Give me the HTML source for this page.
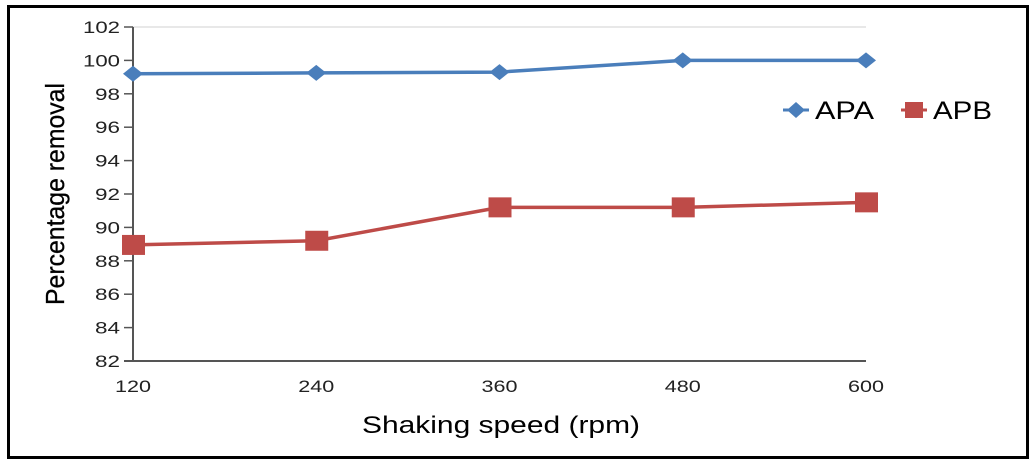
<!DOCTYPE html>
<html><head><meta charset="utf-8"><style>
html,body{margin:0;padding:0;background:#fff;}
svg{display:block;font-family:"Liberation Sans",Arial,sans-serif;}
</style></head><body>
<svg id="chart" width="1034" height="463">
<rect x="8.5" y="6.5" width="1019" height="451" fill="#fff" stroke="#000" stroke-width="3"/>
<g id="axes"></g>
<g id="series"></g>
<text x="362" y="433" font-size="24" textLength="278" lengthAdjust="spacingAndGlyphs" fill="#000">Shaking speed (rpm)</text>
<text transform="translate(64,194) rotate(-90)" font-size="26" stroke="#000" stroke-width="0.3" textLength="222" lengthAdjust="spacingAndGlyphs" text-anchor="middle" fill="#000">Percentage removal</text>
<g>
<g>
<line x1="783" y1="110" x2="809" y2="110" stroke="#4a7ebb" stroke-width="3"/>
<path d="M796 102 L805 110 L796 118 L787 110 Z" fill="#4a7ebb"/>
<text x="815" y="119" font-size="25" textLength="59" lengthAdjust="spacingAndGlyphs" fill="#000">APA</text>
</g>
<g>
<line x1="901" y1="110" x2="927" y2="110" stroke="#be4b48" stroke-width="3"/>
<rect x="905" y="102" width="18" height="16" fill="#be4b48"/>
<text x="933" y="119" font-size="25" textLength="59" lengthAdjust="spacingAndGlyphs" fill="#000">APB</text>
</g>
</g>
</svg>
<script>
const categories = [120, 240, 360, 480, 600];
const apaValues = [99.2, 99.25, 99.3, 100, 100];
const apbValues = [88.95, 89.2, 91.2, 91.2, 91.5];
const yTicks = [82, 84, 86, 88, 90, 92, 94, 96, 98, 100, 102];
const NS = "http://www.w3.org/2000/svg";
const X0 = 133, X1 = 866, Y0 = 361, Y1 = 27, YMIN = 82, YMAX = 102;
function xs(i){ return X0 + (X1 - X0) * i / (categories.length - 1); }
function ys(v){ return Y0 - (v - YMIN) / (YMAX - YMIN) * (Y0 - Y1); }
function mk(tag, attrs, parent){ const e = document.createElementNS(NS, tag); for (const k in attrs) e.setAttribute(k, attrs[k]); parent.appendChild(e); return e; }
const axes = document.getElementById('axes');
const series = document.getElementById('series');
let g = mk('line', {x1: X0, y1: ys(YMAX), x2: X1, y2: ys(YMAX), stroke: '#d0d0d0', 'stroke-width': 1}, axes);


yTicks.forEach(t => {
  const y = ys(t);
  const tk = mk('line', {x1: X0 - 9, y1: y, x2: X0, y2: y, stroke: '#555', 'stroke-width': 1.5}, axes);
  
  
  const w = String(t).length === 3 ? 37 : 25;
  const lb = mk('text', {x: X0 - 13 - w, y: y + 6, 'font-size': 17, textLength: w, lengthAdjust: 'spacingAndGlyphs', fill: '#222'}, axes);
  lb.textContent = t;
  
  
});
categories.forEach((c, i) => {
  const lb = mk('text', {x: xs(i) - 18, y: 392, 'font-size': 17, textLength: 36, lengthAdjust: 'spacingAndGlyphs', fill: '#222'}, axes);
  lb.textContent = c;
  
  
});
const ya = mk('line', {x1: X0, y1: Y1, x2: X0, y2: Y0, stroke: '#555', 'stroke-width': 2}, axes);


const xa = mk('line', {x1: X0 - 9, y1: Y0, x2: X1, y2: Y0, stroke: '#555', 'stroke-width': 2}, axes);


function drawSeries(vals, color, name, marker){
  const pts = vals.map((v, i) => xs(i) + ',' + ys(v)).join(' ');
  const pl = mk('polyline', {points: pts, fill: 'none', stroke: color, 'stroke-width': 3.5}, series);
  
  
  vals.forEach((v, i) => {
    const x = xs(i), y = ys(v);
    let m;
    if (marker === 'diamond') m = mk('path', {d: `M${x} ${y-8} L${x+10} ${y} L${x} ${y+8} L${x-10} ${y} Z`, fill: color}, series);
    else m = mk('rect', {x: x - 11, y: y - 10, width: 23, height: 20, fill: color}, series);
    
    
  });
}
drawSeries(apaValues, '#4a7ebb', 'apa', 'diamond');
drawSeries(apbValues, '#be4b48', 'apb', 'square');
</script>
</body></html>
